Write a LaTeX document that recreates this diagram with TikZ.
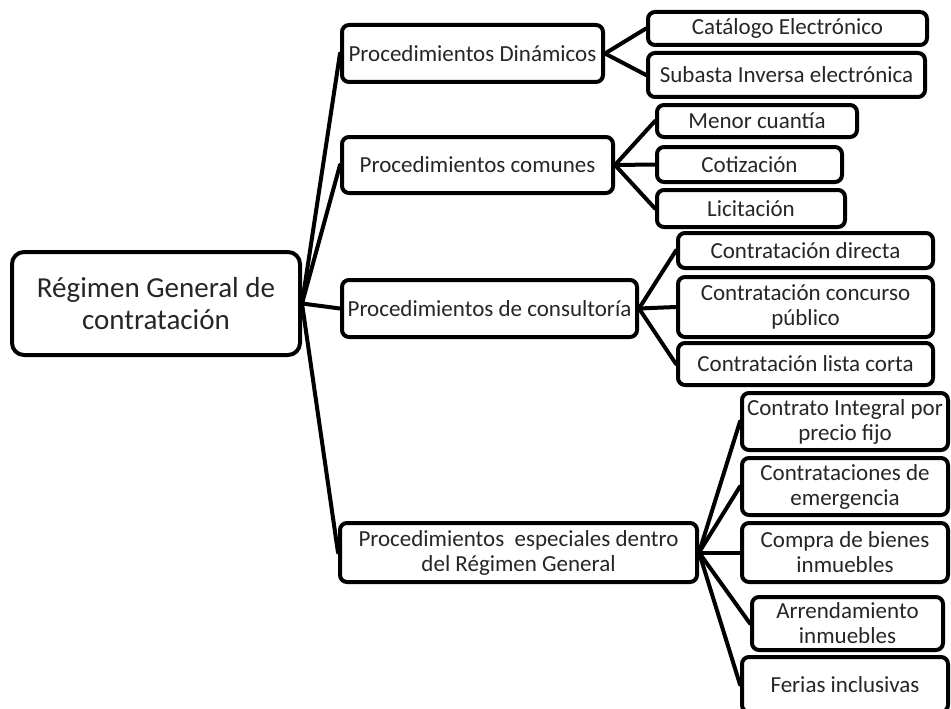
\documentclass[tikz,border=0pt]{standalone}
\usepackage{fontspec}
\setmainfont{Carlito}
\usetikzlibrary{backgrounds}

\tikzset{
  caja/.style={draw, line width=4pt, rounded corners=7pt, fill=white, align=center, inner sep=1pt, text=black!85},
  raiz/.style={caja, rounded corners=12pt, font=\fontsize{29}{32}\selectfont},
  rama/.style={caja, font=\fontsize{23}{25}\selectfont},
  hoja/.style={caja, font=\fontsize{23}{25}\selectfont},
  enlace/.style={line width=4pt, line cap=round}
}

\begin{document}
\begin{tikzpicture}[x=1pt, y=-1pt]

  \clip (0,0) rectangle (951,709);

  \node[raiz, minimum width=288pt, minimum height=103pt] at (156,303.5) (R) {Régimen General de\\contratación};

  \node[rama, minimum width=261pt, minimum height=57pt] at (472.5,53.5) (Pdin) {Procedimientos Dinámicos};
  \node[rama, minimum width=271pt, minimum height=56pt] at (477.5,165) (Pcom) {Procedimientos comunes};
  \node[rama, minimum width=295pt, minimum height=57pt] at (489.5,308.5) (Pcons) {Procedimientos de consultoría};
  \node[rama, minimum width=357pt, minimum height=59pt] at (518.5,552.5) (Pesp) {Procedimientos\ \ especiales dentro\\del Régimen General};

  \node[hoja, minimum width=279pt, minimum height=33pt] at (787.5,28.5) (cat) {Catálogo Electrónico};
  \node[hoja, minimum width=277pt, minimum height=44pt] at (786.5,75) (sub) {Subasta Inversa electrónica};

  \node[hoja, minimum width=200pt, minimum height=32pt] at (757,121) (men) {Menor cuantía};
  \node[hoja, minimum width=185pt, minimum height=35pt] at (749.5,164.5) (cot) {Cotización};
  \node[hoja, minimum width=188pt, minimum height=37pt] at (751,208.5) (lic) {Licitación};

  \node[hoja, minimum width=255pt, minimum height=35pt] at (805.5,250.5) (dir) {Contratación directa};
  \node[hoja, minimum width=255pt, minimum height=60pt] at (805.5,307) (con) {Contratación concurso\\público};
  \node[hoja, minimum width=255pt, minimum height=42pt] at (805.5,364) (lis) {Contratación lista corta};

  \node[hoja, minimum width=206pt, minimum height=57pt] at (845,421.5) (int) {Contrato Integral por\\precio fijo};
  \node[hoja, minimum width=206pt, minimum height=57pt] at (845,486.5) (eme) {Contrataciones de\\emergencia};
  \node[hoja, minimum width=206pt, minimum height=59pt] at (845,552.5) (com) {Compra de bienes\\inmuebles};
  \node[hoja, minimum width=191pt, minimum height=53pt] at (847.5,623.5) (arr) {Arrendamiento\\inmuebles};
  \node[hoja, minimum width=206pt, minimum height=55pt] at (845,684.5) (fer) {Ferias inclusivas};

  \begin{scope}[on background layer]
  \draw[enlace] (R.east)--(Pdin.west);
  \draw[enlace] (R.east)--(Pcom.west);
  \draw[enlace] (R.east)--(Pcons.west);
  \draw[enlace] (R.east)--(Pesp.west);

  \draw[enlace] (Pdin.east)--(cat.west);
  \draw[enlace] (Pdin.east)--(sub.west);

  \draw[enlace] (Pcom.east)--(men.west);
  \draw[enlace] (Pcom.east)--(cot.west);
  \draw[enlace] (Pcom.east)--(lic.west);

  \draw[enlace] (Pcons.east)--(dir.west);
  \draw[enlace] (Pcons.east)--(con.west);
  \draw[enlace] (Pcons.east)--(lis.west);

  \draw[enlace] (Pesp.east)--(int.west);
  \draw[enlace] (Pesp.east)--(eme.west);
  \draw[enlace] (Pesp.east)--(com.west);
  \draw[enlace] (Pesp.east)--(arr.west);
  \draw[enlace] (Pesp.east)--(fer.west);
  \end{scope}

\end{tikzpicture}
\end{document}
